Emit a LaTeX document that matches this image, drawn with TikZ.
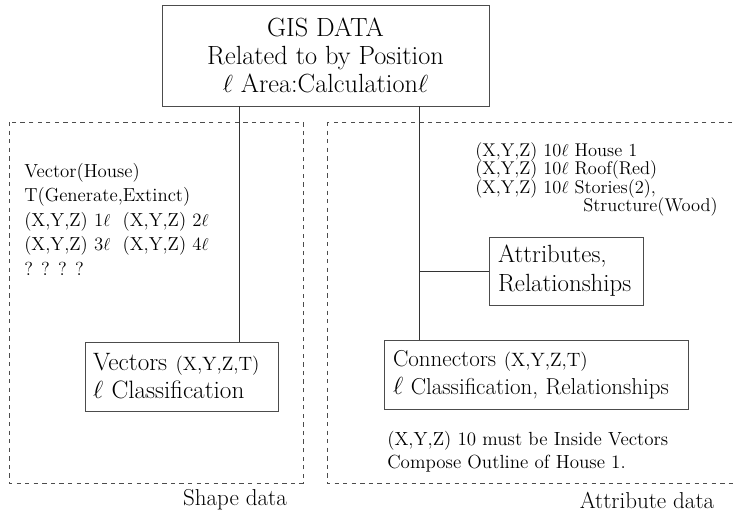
\documentclass[tikz,border=0pt]{standalone}
\usetikzlibrary{positioning}
\newcommand{\crd}[1]{{\fontsize{13.5}{19.6}\selectfont #1}}
\newcommand{\lt}{$\ell$}

\begin{document}
\begin{tikzpicture}[x=0.7pt,y=-0.7pt,
    area/.style={draw=black!70,dashed,line width=0.42pt},
    box/.style={draw=black!70,line width=0.56pt,font=\fontsize{16.1}{19.6}\selectfont},
    leftbox/.style={box,align=left,inner xsep=5.6pt},
    note/.style={inner sep=0pt,align=left,anchor=west},
    caption/.style={inner sep=0pt,font=\fontsize{16.1}{19.6}\selectfont},
    link/.style={draw=black!80,line width=0.56pt}]
  \useasboundingbox (0,0) rectangle (736,517);
  % shape data and attribute data areas
  \draw[area] (9,122) rectangle (303,483);
  \draw[area] (327,122) rectangle (760,483);
  \node[caption] (shapelbl) at (235,500) {Shape data};
  \node[caption] (attrlbl) at (647,500) {Attribute data};
  % boxes
  \node[box,align=center,minimum width=228.9pt,minimum height=70.7pt,
        font=\fontsize{18.4}{19.8}\selectfont] (gis) at (325.5,55.5)
    {GIS DATA\\Related to by Position\\\lt\ Area:Calculation\lt};
  \node[leftbox,text width=123.9pt,minimum height=48.3pt,
        font=\fontsize{17.6}{19.6}\selectfont] (vec) at (181.5,376.5)
    {Vectors \crd{(X,Y,Z,T)}\\\lt\ Classification};
  \node[leftbox,text width=95.2pt,minimum height=47.6pt,inner xsep=6.3pt,
        font=\fontsize{17.4}{20.3}\selectfont] (attr) at (566,271)
    {Attributes,\\Relationships};
  \node[leftbox,text width=200.2pt,minimum height=48.3pt,inner xsep=6.3pt] (con) at (536,374.5)
    {Connectors \crd{(X,Y,Z,T)}\\\lt\ Classification, Relationships};
  % texts
  \node[note,font=\fontsize{13.2}{17.15}\selectfont] (vtxt) at (24,219)
    {Vector(House)\\T(Generate,Extinct)\\(X,Y,Z) 1\lt\ \ (X,Y,Z) 2\lt\\(X,Y,Z) 3\lt\ \ (X,Y,Z) 4\lt\\? ? ? ?};
  \node[note,font=\fontsize{12.9}{13}\selectfont] (atxt) at (475,179.5)
    {(X,Y,Z) 10\lt\ House 1\\(X,Y,Z) 10\lt\ Roof(Red)\\(X,Y,Z) 10\lt\ Stories(2),\\\hspace*{75.6pt}Structure(Wood)};
  \node[note,font=\fontsize{13.3}{16.1}\selectfont] (ctxt) at (387,451.5)
    {(X,Y,Z) 10 must be Inside Vectors\\Compose Outline of House 1.};
  % connectors
  \coordinate (lj) at (239,106);
  \coordinate (rj) at (419,106);
  \draw[link] (lj) -- (lj |- vec.north);
  \draw[link] (rj) -- (rj |- con.north);
  \draw[link] (rj |- attr.west) -- (attr.west);
\end{tikzpicture}
\end{document}
